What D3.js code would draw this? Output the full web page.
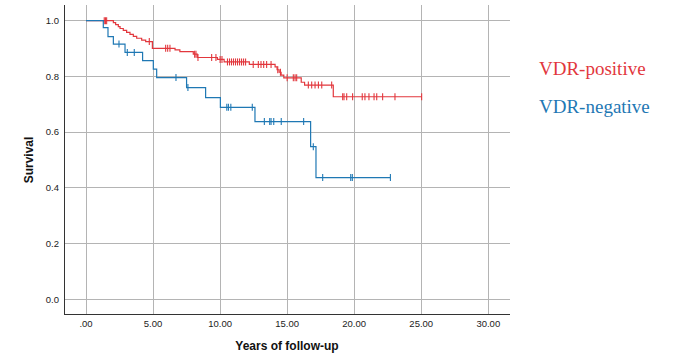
<!DOCTYPE html>
<html><head><meta charset="utf-8">
<script src="https://cdn.jsdelivr.net/npm/d3@7"></script>
<style>body{margin:0;background:#fff}svg{display:block}</style>
</head><body>
<script>
// ---- data ----
const xTicks = [0, 5, 10, 15, 20, 25, 30];
const xTickLabels = [".00", "5.00", "10.00", "15.00", "20.00", "25.00", "30.00"];
const yTicks = [0, 0.2, 0.4, 0.6, 0.8, 1.0];
const yTickLabels = ["0.0", "0.2", "0.4", "0.6", "0.8", "1.0"];
const seriesNames = ["VDR-positive", "VDR-negative"];

const posTime = [0, 2.04, 2.21, 2.41, 2.54, 2.78, 3.03, 3.28, 3.53, 3.78, 4.15, 4.45, 4.95, 6.64, 7.0, 8.0, 8.3, 9.8, 10.3, 12.18, 14.1, 14.25, 14.4, 14.55, 14.75, 16.05, 16.3, 18.44];
const posSurv = [1.0, 0.993, 0.986, 0.979, 0.972, 0.965, 0.958, 0.951, 0.944, 0.937, 0.930, 0.925, 0.901, 0.895, 0.889, 0.880, 0.868, 0.861, 0.852, 0.843, 0.834, 0.824, 0.815, 0.805, 0.795, 0.779, 0.769, 0.727];
const posCensor = [1.36, 1.45, 1.54, 4.72, 5.94, 6.09, 6.26, 8.1, 8.2, 8.35, 9.37, 9.69, 10.0, 10.14, 10.55, 10.7, 10.85, 11.0, 11.15, 11.3, 11.45, 11.6, 11.75, 11.9, 12.47, 12.85, 13.05, 13.25, 13.47, 13.8, 14.3, 14.5, 15.0, 15.46, 15.59, 15.71, 16.58, 16.83, 17.08, 17.33, 17.58, 18.32, 19.14, 19.24, 19.44, 19.88, 20.6, 20.8, 21.1, 21.48, 21.68, 22.12, 23.04, 25.03];

const negTime = [0, 1.29, 1.64, 2.04, 2.91, 4.22, 5.02, 5.27, 7.5, 8.92, 10.02, 12.6, 16.75, 17.15];
const negSurv = [1.0, 0.975, 0.943, 0.916, 0.886, 0.857, 0.826, 0.796, 0.760, 0.724, 0.689, 0.638, 0.548, 0.437];
const negCensor = [2.46, 3.08, 3.6, 6.71, 7.6, 10.5, 10.62, 10.8, 12.4, 13.3, 13.7, 13.8, 14.0, 14.56, 16.23, 16.95, 17.65, 19.74, 19.86, 22.7];

const colors = ["#e2373d", "#1f78b4"];

// ---- layout ----
const W = 673, H = 355;
const svg = d3.select("body").append("svg").attr("width", W).attr("height", H);
const x = d3.scaleLinear().domain([0, 30]).range([86, 488.3]);
const y = d3.scaleLinear().domain([0, 1]).range([299.3, 20.7]);
const plotL = 64, plotR = 510, plotT = 5, plotB = 314;

// grid
svg.append("g").selectAll("line").data(xTicks).join("line")
  .attr("x1", d => x(d)).attr("x2", d => x(d)).attr("y1", plotT).attr("y2", plotB)
  .attr("stroke", "#b4b4b4").attr("stroke-width", 1).attr("shape-rendering", "crispEdges");
svg.append("g").selectAll("line").data(yTicks).join("line")
  .attr("x1", plotL).attr("x2", plotR).attr("y1", d => y(d)).attr("y2", d => y(d))
  .attr("stroke", "#b4b4b4").attr("stroke-width", 1).attr("shape-rendering", "crispEdges");

// axes lines
svg.append("line").attr("x1", plotL).attr("x2", plotL).attr("y1", plotT).attr("y2", plotB)
  .attr("stroke", "#333").attr("stroke-width", 1).attr("shape-rendering", "crispEdges");
svg.append("line").attr("x1", plotL).attr("x2", plotR).attr("y1", plotB).attr("y2", plotB)
  .attr("stroke", "#333").attr("stroke-width", 1).attr("shape-rendering", "crispEdges");

// tick labels
const font = "'Liberation Sans', Arial, sans-serif";
svg.append("g").selectAll("text").data(xTicks).join("text")
  .attr("x", d => x(d)).attr("y", 326.5).attr("text-anchor", "middle")
  .attr("font-family", font).attr("font-size", 9.5).attr("fill", "#222")
  .text((d, i) => xTickLabels[i]);
svg.append("g").selectAll("text").data(yTicks).join("text")
  .attr("x", 59).attr("y", d => y(d) + 3.3).attr("text-anchor", "end")
  .attr("font-family", font).attr("font-size", 9.5).attr("fill", "#222")
  .text((d, i) => yTickLabels[i]);

// axis titles
svg.append("text").attr("x", 287).attr("y", 349.5).attr("text-anchor", "middle")
  .attr("font-family", font).attr("font-size", 12).attr("font-weight", "bold").attr("fill", "#111")
  .text("Years of follow-up");
svg.append("text").attr("transform", "translate(33,160) rotate(-90)").attr("text-anchor", "middle")
  .attr("font-family", font).attr("font-size", 12).attr("font-weight", "bold").attr("fill", "#111")
  .text("Survival");

// curves
function drawKM(times, surv, censor, color) {
  const end = d3.max(censor.concat(times));
  const pts = times.map((t, i) => [t, surv[i]]);
  pts.push([end, surv[surv.length - 1]]);
  const line = d3.line().x(d => x(d[0])).y(d => y(d[1])).curve(d3.curveStepAfter);
  svg.append("path").datum(pts).attr("d", line).attr("fill", "none")
    .attr("stroke", color).attr("stroke-width", 1.2);
  const survAt = t => { let v = surv[0]; for (let i = 0; i < times.length; i++) if (times[i] <= t) v = surv[i]; return v; };
  svg.append("g").selectAll("line").data(censor).join("line")
    .attr("x1", d => x(d)).attr("x2", d => x(d))
    .attr("y1", d => y(survAt(d)) - 3.5).attr("y2", d => y(survAt(d)) + 3.5)
    .attr("stroke", color).attr("stroke-width", 1.1);
}
drawKM(posTime, posSurv, posCensor, colors[0]);
drawKM(negTime, negSurv, negCensor, colors[1]);

// legend
svg.append("g").selectAll("text").data(seriesNames).join("text")
  .attr("x", 539).attr("y", (d, i) => 74.5 + i * 38.5)
  .attr("font-family", "'Liberation Serif', 'Times New Roman', serif").attr("font-size", 19)
  .attr("fill", (d, i) => colors[i]).text(d => d);
</script>
</body></html>
